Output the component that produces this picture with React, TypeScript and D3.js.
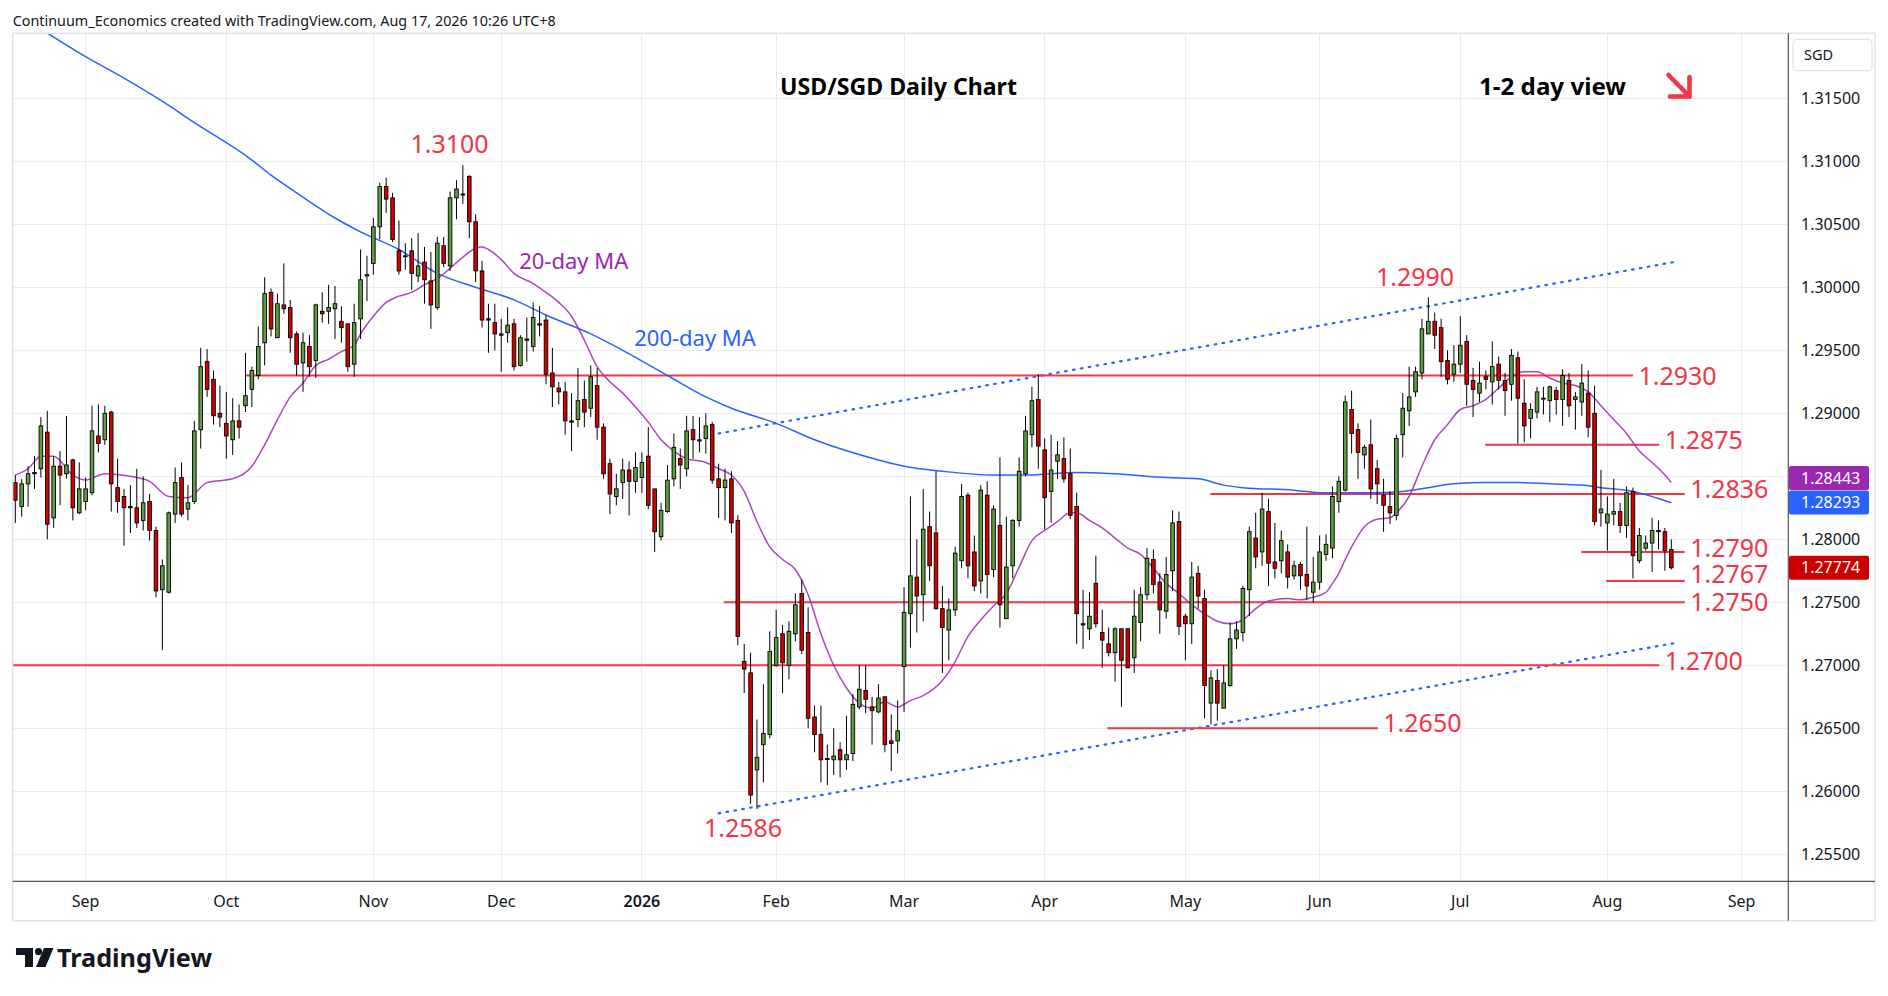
import React from 'react';
import * as d3 from 'd3';

// daily OHLC, one value per bar, first bar Fri 15 Aug 2025, last bar Mon 17 Aug 2026
const opens = [
  1.2845, 1.2826, 1.2844, 1.2853, 1.2856, 1.2885, 1.2817, 1.2858, 1.2852, 1.2863,
  1.2821, 1.2830, 1.2837, 1.2882, 1.2879, 1.2901, 1.2841, 1.2834, 1.2826, 1.2825,
  1.2815, 1.2830, 1.2807, 1.2760, 1.2758, 1.2820, 1.2849, 1.2824, 1.2830, 1.2887,
  1.2941, 1.2927, 1.2900, 1.2892, 1.2879, 1.2894, 1.2906, 1.2919, 1.2930, 1.2956,
  1.2996, 1.2960, 1.2986, 1.2984, 1.2963, 1.2940, 1.2953, 1.2942, 1.2981, 1.2981,
  1.2983, 1.2973, 1.2971, 1.2939, 1.2975, 1.3009, 1.3019, 1.3048, 1.3080, 1.3071,
  1.3029, 1.3025, 1.3029, 1.3009, 1.3020, 1.3005, 1.2984, 1.3033, 1.3017, 1.3071,
  1.3074, 1.3088, 1.3052, 1.3013, 1.2975, 1.2972, 1.2963, 1.2964, 1.2971, 1.2938,
  1.2959, 1.2953, 1.2971, 1.2974, 1.2932, 1.2920, 1.2917, 1.2894, 1.2895, 1.2911,
  1.2904, 1.2922, 1.2889, 1.2860, 1.2834, 1.2845, 1.2855, 1.2846, 1.2849, 1.2866,
  1.2840, 1.2802, 1.2822, 1.2848, 1.2864, 1.2856, 1.2887, 1.2878, 1.2880, 1.2891,
  1.2848, 1.2841, 1.2848, 1.2815, 1.2703, 1.2694, 1.2617, 1.2637, 1.2645, 1.2700,
  1.2725, 1.2700, 1.2725, 1.2757, 1.2726, 1.2659, 1.2645, 1.2626, 1.2625, 1.2633,
  1.2625, 1.2630, 1.2667, 1.2680, 1.2667, 1.2663, 1.2675, 1.2640, 1.2640, 1.2699,
  1.2741, 1.2770, 1.2756, 1.2810, 1.2805, 1.2745, 1.2728, 1.2744, 1.2783, 1.2835,
  1.2790, 1.2767, 1.2835, 1.2776, 1.2811, 1.2737, 1.2779, 1.2815, 1.2852, 1.2883,
  1.2911, 1.2871, 1.2838, 1.2862, 1.2864, 1.2852, 1.2826, 1.2733, 1.2729, 1.2765,
  1.2726, 1.2717, 1.2710, 1.2729, 1.2729, 1.2706, 1.2734, 1.2756, 1.2784, 1.2766,
  1.2743, 1.2775, 1.2814, 1.2739, 1.2733, 1.2773, 1.2753, 1.2670, 1.2688, 1.2666,
  1.2684, 1.2721, 1.2726, 1.2760, 1.2801, 1.2790, 1.2822, 1.2782, 1.2783, 1.2790,
  1.2771, 1.2780, 1.2772, 1.2758, 1.2766, 1.2788, 1.2793, 1.2830, 1.2839, 1.2903,
  1.2887, 1.2867, 1.2875, 1.2856, 1.2835, 1.2826, 1.2819, 1.2883, 1.2902, 1.2917,
  1.2932, 1.2963, 1.2973, 1.2968, 1.2942, 1.2931, 1.2939, 1.2957, 1.2926, 1.2916,
  1.2929, 1.2925, 1.2939, 1.2926, 1.2923, 1.2944, 1.2908, 1.2896, 1.2901, 1.2912,
  1.2910, 1.2918, 1.2911, 1.2926, 1.2911, 1.2909, 1.2916, 1.2900, 1.2821, 1.2813,
  1.2820, 1.2822, 1.2811, 1.2838, 1.2783, 1.2793, 1.2797, 1.2807, 1.2806, 1.2792,
];

const highs = [
  1.2851, 1.2848, 1.2858, 1.2866, 1.2897, 1.2902, 1.2866, 1.2870, 1.2898, 1.2864,
  1.2861, 1.2849, 1.2906, 1.2907, 1.2906, 1.2902, 1.2864, 1.2840, 1.2843, 1.2856,
  1.2850, 1.2836, 1.2810, 1.2784, 1.2822, 1.2857, 1.2861, 1.2843, 1.2894, 1.2952,
  1.2951, 1.2934, 1.2922, 1.2917, 1.2912, 1.2907, 1.2948, 1.2937, 1.2969, 1.3008,
  1.2999, 1.2995, 1.3019, 1.2990, 1.2965, 1.2964, 1.2962, 1.2987, 1.2996, 1.3002,
  1.3001, 1.2985, 1.2971, 1.2987, 1.3030, 1.3025, 1.3055, 1.3083, 1.3087, 1.3075,
  1.3053, 1.3035, 1.3039, 1.3043, 1.3032, 1.3028, 1.3040, 1.3040, 1.3076, 1.3085,
  1.3097, 1.3089, 1.3058, 1.3021, 1.2987, 1.2987, 1.2975, 1.2984, 1.2975, 1.2962,
  1.2976, 1.2988, 1.2985, 1.2978, 1.2952, 1.2925, 1.2925, 1.2916, 1.2936, 1.2926,
  1.2938, 1.2936, 1.2892, 1.2864, 1.2852, 1.2864, 1.2862, 1.2869, 1.2869, 1.2889,
  1.2840, 1.2829, 1.2859, 1.2884, 1.2872, 1.2898, 1.2898, 1.2897, 1.2900, 1.2893,
  1.2860, 1.2856, 1.2854, 1.2819, 1.2717, 1.2710, 1.2657, 1.2685, 1.2727, 1.2744,
  1.2732, 1.2735, 1.2757, 1.2768, 1.2746, 1.2668, 1.2668, 1.2637, 1.2650, 1.2639,
  1.2660, 1.2677, 1.2700, 1.2700, 1.2675, 1.2685, 1.2675, 1.2661, 1.2672, 1.2762,
  1.2834, 1.2800, 1.2840, 1.2822, 1.2854, 1.2763, 1.2753, 1.2794, 1.2844, 1.2837,
  1.2803, 1.2843, 1.2846, 1.2827, 1.2865, 1.2818, 1.2816, 1.2865, 1.2898, 1.2921,
  1.2931, 1.2880, 1.2883, 1.2878, 1.2881, 1.2872, 1.2837, 1.2760, 1.2758, 1.2787,
  1.2744, 1.2730, 1.2730, 1.2729, 1.2729, 1.2760, 1.2762, 1.2793, 1.2792, 1.2773,
  1.2786, 1.2823, 1.2822, 1.2741, 1.2782, 1.2779, 1.2760, 1.2696, 1.2697, 1.2700,
  1.2734, 1.2735, 1.2763, 1.2810, 1.2821, 1.2837, 1.2832, 1.2813, 1.2807, 1.2796,
  1.2783, 1.2782, 1.2810, 1.2786, 1.2803, 1.2804, 1.2842, 1.2850, 1.2914, 1.2918,
  1.2892, 1.2875, 1.2895, 1.2863, 1.2848, 1.2838, 1.2883, 1.2916, 1.2937, 1.2937,
  1.2975, 1.2992, 1.2980, 1.2975, 1.2950, 1.2954, 1.2977, 1.2962, 1.2936, 1.2941,
  1.2934, 1.2957, 1.2945, 1.2932, 1.2951, 1.2949, 1.2927, 1.2908, 1.2921, 1.2921,
  1.2922, 1.2921, 1.2935, 1.2932, 1.2917, 1.2939, 1.2934, 1.2922, 1.2855, 1.2834,
  1.2848, 1.2829, 1.2842, 1.2841, 1.2809, 1.2803, 1.2817, 1.2815, 1.2809, 1.2800,
];

const lows = [
  1.2813, 1.2818, 1.2826, 1.2840, 1.2849, 1.2800, 1.2809, 1.2827, 1.2848, 1.2815,
  1.2820, 1.2823, 1.2835, 1.2869, 1.2875, 1.2822, 1.2821, 1.2795, 1.2805, 1.2809,
  1.2807, 1.2799, 1.2754, 1.2712, 1.2757, 1.2813, 1.2818, 1.2815, 1.2828, 1.2872,
  1.2913, 1.2891, 1.2889, 1.2864, 1.2867, 1.2880, 1.2901, 1.2905, 1.2927, 1.2938,
  1.2961, 1.2960, 1.2979, 1.2948, 1.2930, 1.2917, 1.2929, 1.2928, 1.2972, 1.2971,
  1.2959, 1.2956, 1.2933, 1.2929, 1.2959, 1.2989, 1.3010, 1.3038, 1.3059, 1.3036,
  1.3010, 1.3014, 1.2998, 1.3004, 1.2987, 1.2967, 1.2982, 1.3016, 1.3013, 1.3054,
  1.3066, 1.3039, 1.3004, 1.2968, 1.2948, 1.2950, 1.2933, 1.2956, 1.2934, 1.2937,
  1.2941, 1.2949, 1.2961, 1.2923, 1.2905, 1.2907, 1.2883, 1.2870, 1.2889, 1.2889,
  1.2897, 1.2879, 1.2848, 1.2820, 1.2827, 1.2832, 1.2819, 1.2837, 1.2837, 1.2824,
  1.2790, 1.2799, 1.2821, 1.2842, 1.2840, 1.2850, 1.2864, 1.2869, 1.2868, 1.2844,
  1.2817, 1.2815, 1.2805, 1.2716, 1.2678, 1.2590, 1.2586, 1.2607, 1.2642, 1.2699,
  1.2678, 1.2689, 1.2719, 1.2709, 1.2650, 1.2631, 1.2607, 1.2605, 1.2613, 1.2611,
  1.2617, 1.2624, 1.2665, 1.2662, 1.2637, 1.2662, 1.2631, 1.2616, 1.2630, 1.2663,
  1.2714, 1.2726, 1.2735, 1.2767, 1.2744, 1.2694, 1.2704, 1.2739, 1.2777, 1.2769,
  1.2759, 1.2757, 1.2753, 1.2770, 1.2730, 1.2737, 1.2769, 1.2810, 1.2850, 1.2873,
  1.2856, 1.2808, 1.2813, 1.2848, 1.2845, 1.2816, 1.2717, 1.2713, 1.2720, 1.2730,
  1.2698, 1.2707, 1.2687, 1.2667, 1.2698, 1.2694, 1.2719, 1.2752, 1.2757, 1.2725,
  1.2737, 1.2759, 1.2724, 1.2704, 1.2717, 1.2745, 1.2658, 1.2653, 1.2656, 1.2666,
  1.2683, 1.2713, 1.2719, 1.2739, 1.2777, 1.2779, 1.2763, 1.2769, 1.2773, 1.2761,
  1.2768, 1.2760, 1.2752, 1.2750, 1.2760, 1.2783, 1.2785, 1.2821, 1.2838, 1.2868,
  1.2848, 1.2856, 1.2832, 1.2828, 1.2806, 1.2812, 1.2815, 1.2865, 1.2890, 1.2913,
  1.2927, 1.2963, 1.2951, 1.2929, 1.2923, 1.2925, 1.2932, 1.2906, 1.2897, 1.2909,
  1.2919, 1.2907, 1.2919, 1.2898, 1.2910, 1.2876, 1.2877, 1.2880, 1.2896, 1.2899,
  1.2893, 1.2899, 1.2890, 1.2897, 1.2887, 1.2898, 1.2881, 1.2811, 1.2810, 1.2791,
  1.2811, 1.2805, 1.2801, 1.2769, 1.2781, 1.2791, 1.2774, 1.2792, 1.2775, 1.2776,
];

const closes = [
  1.2831, 1.2844, 1.2852, 1.2852, 1.2890, 1.2812, 1.2858, 1.2851, 1.2859, 1.2825,
  1.2840, 1.2840, 1.2886, 1.2876, 1.2900, 1.2844, 1.2830, 1.2825, 1.2825, 1.2813,
  1.2829, 1.2807, 1.2759, 1.2779, 1.2821, 1.2845, 1.2820, 1.2829, 1.2886, 1.2937,
  1.2919, 1.2898, 1.2897, 1.2882, 1.2894, 1.2889, 1.2914, 1.2934, 1.2953, 1.2995,
  1.2967, 1.2987, 1.2983, 1.2960, 1.2939, 1.2956, 1.2937, 1.2986, 1.2979, 1.2984,
  1.2987, 1.2968, 1.2937, 1.2972, 1.3006, 1.3010, 1.3048, 1.3080, 1.3070, 1.3038,
  1.3013, 1.3025, 1.3011, 1.3017, 1.3006, 1.2986, 1.3035, 1.3019, 1.3071, 1.3078,
  1.3074, 1.3052, 1.3013, 1.2974, 1.2974, 1.2963, 1.2962, 1.2970, 1.2937, 1.2960,
  1.2958, 1.2976, 1.2970, 1.2931, 1.2921, 1.2917, 1.2894, 1.2893, 1.2910, 1.2901,
  1.2929, 1.2889, 1.2852, 1.2836, 1.2840, 1.2855, 1.2846, 1.2857, 1.2861, 1.2827,
  1.2806, 1.2823, 1.2847, 1.2873, 1.2859, 1.2886, 1.2879, 1.2879, 1.2890, 1.2847,
  1.2841, 1.2847, 1.2813, 1.2723, 1.2697, 1.2597, 1.2627, 1.2646, 1.2711, 1.2722,
  1.2702, 1.2727, 1.2748, 1.2712, 1.2658, 1.2645, 1.2625, 1.2626, 1.2628, 1.2625,
  1.2629, 1.2669, 1.2681, 1.2673, 1.2664, 1.2674, 1.2637, 1.2638, 1.2648, 1.2742,
  1.2771, 1.2755, 1.2808, 1.2779, 1.2745, 1.2730, 1.2744, 1.2789, 1.2834, 1.2779,
  1.2763, 1.2839, 1.2772, 1.2824, 1.2748, 1.2778, 1.2815, 1.2854, 1.2886, 1.2910,
  1.2874, 1.2833, 1.2855, 1.2867, 1.2848, 1.2819, 1.2741, 1.2732, 1.2739, 1.2733,
  1.2720, 1.2710, 1.2729, 1.2704, 1.2698, 1.2739, 1.2756, 1.2785, 1.2764, 1.2744,
  1.2772, 1.2813, 1.2731, 1.2733, 1.2770, 1.2755, 1.2684, 1.2690, 1.2670, 1.2686,
  1.2721, 1.2728, 1.2761, 1.2806, 1.2786, 1.2824, 1.2781, 1.2777, 1.2799, 1.2770,
  1.2779, 1.2771, 1.2763, 1.2766, 1.2790, 1.2796, 1.2834, 1.2846, 1.2909, 1.2884,
  1.2869, 1.2873, 1.2840, 1.2844, 1.2827, 1.2821, 1.2880, 1.2904, 1.2913, 1.2933,
  1.2967, 1.2973, 1.2962, 1.2941, 1.2927, 1.2939, 1.2954, 1.2923, 1.2919, 1.2924,
  1.2927, 1.2937, 1.2926, 1.2918, 1.2946, 1.2912, 1.2890, 1.2903, 1.2917, 1.2912,
  1.2921, 1.2911, 1.2930, 1.2906, 1.2913, 1.2924, 1.2889, 1.2814, 1.2824, 1.2820,
  1.2822, 1.2811, 1.2837, 1.2787, 1.2803, 1.2797, 1.2807, 1.2806, 1.2791, 1.27774,
];

// moving averages at bar indices
const ma20Bars = [
  0, 2, 4, 6, 9, 11, 14, 18, 21, 24, 27, 30, 34, 37, 39, 41, 43, 45, 47, 49,
  51, 53, 54, 56, 58, 60, 62, 64, 66, 68, 70, 72, 73, 74, 76, 78, 81, 83, 85, 87,
  89, 91, 93, 95, 97, 99, 101, 103, 105, 108, 110, 112, 114, 116, 118, 120, 122, 124, 126, 128,
  130, 132, 134, 136, 138, 140, 142, 145, 147, 149, 151, 153, 155, 157, 159, 161, 163, 165, 166, 168,
  170, 172, 174, 176, 178, 180, 182, 184, 186, 188, 190, 192, 194, 196, 199, 201, 203, 205, 206, 207,
  208, 209, 211, 213, 215, 216, 218, 220, 222, 224, 226, 228, 230, 232, 234, 236, 238, 240, 242, 244,
  246, 248, 250, 252, 254, 256, 258, 259,
];
const ma20Values = [
  1.2851, 1.2856, 1.2866, 1.2866, 1.2851, 1.2847, 1.2852, 1.2850, 1.2846, 1.2834, 1.2833, 1.2845, 1.2848, 1.2858, 1.2875, 1.2895, 1.2913, 1.2924, 1.2938, 1.2943,
  1.2949, 1.2954, 1.2963, 1.2977, 1.2988, 1.2993, 1.2996, 1.3002, 1.3007, 1.3015, 1.3024, 1.3031, 1.3032, 1.3030, 1.3022, 1.3011, 1.3003, 1.2996, 1.2988, 1.2977,
  1.2958, 1.2937, 1.2925, 1.2916, 1.2905, 1.2893, 1.2879, 1.2870, 1.2864, 1.2861, 1.2856, 1.2851, 1.2838, 1.2814, 1.2794, 1.2784, 1.2776, 1.2756, 1.2725, 1.2700,
  1.2682, 1.2670, 1.2666, 1.2671, 1.2667, 1.2672, 1.2676, 1.2688, 1.2703, 1.2723, 1.2736, 1.2747, 1.2757, 1.2778, 1.2799, 1.2807, 1.2814, 1.2821, 1.2821, 1.2815,
  1.2809, 1.2801, 1.2793, 1.2788, 1.2777, 1.2765, 1.2757, 1.2748, 1.2741, 1.2735, 1.2733, 1.2736, 1.2745, 1.2751, 1.2753, 1.2752, 1.2754, 1.2758, 1.2765, 1.2773,
  1.2784, 1.2794, 1.2810, 1.2816, 1.2817, 1.2821, 1.2834, 1.2858, 1.2879, 1.2891, 1.2903, 1.2906, 1.2911, 1.2920, 1.2929, 1.2933, 1.2933, 1.2928, 1.2924, 1.2922,
  1.2917, 1.2906, 1.2895, 1.2884, 1.2870, 1.2861, 1.2851, 1.2845,
];

const ma200Bars = [
  4, 11, 17, 25, 27, 37, 40, 44, 50, 54, 60, 66, 72, 78, 83, 90, 95, 102, 108, 112,
  119, 125, 135, 139, 145, 153, 158, 166, 172, 180, 185, 189, 192, 200, 204, 212, 217, 221, 225, 230,
  235, 240, 245, 248, 253, 259,
];
const ma200Values = [
  1.3205, 1.3183, 1.3166, 1.3141, 1.3134, 1.3101, 1.3089, 1.3075, 1.3055, 1.3044, 1.3030, 1.3011, 1.3000, 1.2990, 1.2978, 1.2963, 1.2950, 1.2930, 1.2913, 1.2904,
  1.2892, 1.2879, 1.2863, 1.2858, 1.2854, 1.2851, 1.2851, 1.2853, 1.2852, 1.2849, 1.2848, 1.2843, 1.2841, 1.2839, 1.2837, 1.2837, 1.2838, 1.2841, 1.2844, 1.2845,
  1.2845, 1.2844, 1.2843, 1.2841, 1.2838, 1.2829,
];

const priceTicks = [1.255, 1.26, 1.265, 1.27, 1.275, 1.28, 1.285, 1.29, 1.295, 1.3, 1.305, 1.31, 1.315];
const monthNames = ['2026', 'Feb', 'Mar', 'Apr', 'May', 'Jun', 'Jul', 'Aug', 'Sep', 'Oct', 'Nov', 'Dec'];
const holidays = ['2025-12-25', '2026-01-01'];

// drawn support / resistance levels: price, first bar, last bar
const levelPrices = [1.2930, 1.2875, 1.2836, 1.2790, 1.2767, 1.2750, 1.2700, 1.2650];
const levelFrom = [35.9, 229.9, 186.9, 244.9, 248.8, 110.8, -0.5, 170.8];
const levelTo = [253.0, 257.1, 261.1, 261.1, 261.1, 261.1, 257.1, 213.1];
const levelLabelDy = [9, 4.5, 4.5, 5.5, 2, 8.5, 5, 3.5];

// dotted channel lines: [bar, price] at each end
const channelUpper: [number, number][] = [[110, 1.2884], [259.4, 1.3020]];
const channelLower: [number, number][] = [[110, 1.25825], [259.4, 1.27175]];

// text notes on the chart: bar, price at the text baseline
const notes = [
  { text: '1.3100', bar: 61.8, price: 1.31066 },
  { text: '1.2990', bar: 212.8, price: 1.30014 },
  { text: '1.2586', bar: 107.7, price: 1.25637 },
];

const lastMa20 = 1.28443;
const lastMa200 = 1.28293;
const lastClose = 1.27774;

const FONT = '"Noto Sans", "DejaVu Sans", sans-serif';
const RED = '#f23645';
const UP = '#5d9c3f';
const DOWN = '#d30000';
const PURPLE = '#9c27b0';
const BLUE = '#2962ff';
const GRID = '#e6ecf2';
const INK = '#131722';

const buildDates = (count: number) => {
  const out: Date[] = [];
  const d = new Date(Date.UTC(2025, 7, 15));
  while (out.length < count) {
    const wd = d.getUTCDay();
    const key = d.toISOString().slice(0, 10);
    if (wd !== 0 && wd !== 6 && !holidays.includes(key)) out.push(new Date(d));
    d.setUTCDate(d.getUTCDate() + 1);
  }
  return out;
};

const App: React.FC = () => {
  const W = 1888;
  const H = 996;
  const plot = { left: 12.7, right: 1788.3, top: 33.3, bottom: 881.3 };
  const frameRight = 1875;
  const frameBottom = 920.7;

  const x = d3.scaleLinear().domain([0, 259]).range([15.3, 1671.3]);
  const y = d3.scaleLinear().domain([1.255, 1.315]).range([854.3, 98.3]);

  const dates = buildDates(275);
  const monthTicks: { i: number; label: string }[] = [];
  for (let i = 1; i < dates.length; i++) {
    if (dates[i].getUTCMonth() !== dates[i - 1].getUTCMonth()) {
      monthTicks.push({ i, label: monthNames[dates[i].getUTCMonth()] });
    }
  }

  const maLine = d3
    .line<[number, number]>()
    .x((d) => x(d[0]))
    .y((d) => y(d[1]))
    .curve(d3.curveMonotoneX);
  const ma20Path = maLine(ma20Bars.map((b, k) => [b, ma20Values[k]]));
  const ma200Path = maLine(ma200Bars.map((b, k) => [b, ma200Values[k]]));
  const straight = d3
    .line<[number, number]>()
    .x((d) => x(d[0]))
    .y((d) => y(d[1]));

  const bodyW = 3.6;

  // price axis badges; the 20-day badge is pushed above the 200-day one
  const yBlue = y(lastMa200);
  const yPurple = Math.min(y(lastMa20), yBlue - 24.5);
  const yRed = y(lastClose);
  const badges = [
    { y: yPurple, text: lastMa20.toFixed(5), fill: PURPLE },
    { y: yBlue, text: lastMa200.toFixed(5), fill: BLUE },
    { y: yRed, text: lastClose.toFixed(5), fill: '#cc0000' },
  ];

  return (
    <div style={{ position: 'absolute', left: 0, top: 0, width: W, height: H, background: '#fff' }}>
      <svg width={W} height={H} style={{ display: 'block', fontFamily: FONT }}>
        <defs>
          <clipPath id="plotClip">
            <rect x={plot.left} y={plot.top} width={plot.right - plot.left} height={plot.bottom - plot.top} />
          </clipPath>
        </defs>

        <text x={12.7} y={25.7} fontSize={14.5} fill={INK} textLength={543} lengthAdjust="spacingAndGlyphs">
          Continuum_Economics created with TradingView.com, Aug 17, 2026 10:26 UTC+8
        </text>

        {/* grid */}
        <g shapeRendering="crispEdges" stroke={GRID} strokeWidth={1}>
          {priceTicks.map((p) => (
            <line key={p} x1={plot.left} x2={plot.right} y1={y(p)} y2={y(p)} />
          ))}
          {monthTicks.map((t) => (
            <line key={t.i} x1={x(t.i)} x2={x(t.i)} y1={plot.top} y2={plot.bottom} />
          ))}
        </g>

        <g clipPath="url(#plotClip)">
          {/* dotted channel */}
          {[channelUpper, channelLower].map((c, k) => (
            <path
              key={k}
              d={straight(c) || ''}
              fill="none"
              stroke={BLUE}
              strokeWidth={2.2}
              strokeDasharray="1.6 6.4"
              strokeLinecap="round"
            />
          ))}

          {/* horizontal levels */}
          {levelPrices.map((p, k) => (
            <line
              key={p}
              x1={Math.max(plot.left, x(levelFrom[k]))}
              x2={x(levelTo[k])}
              y1={y(p)}
              y2={y(p)}
              stroke={RED}
              strokeWidth={2}
            />
          ))}

          <path d={ma200Path || ''} fill="none" stroke={BLUE} strokeWidth={1.5} />
          <path d={ma20Path || ''} fill="none" stroke={PURPLE} strokeWidth={1.5} opacity={0.85} />

          {/* candles */}
          {closes.map((c, i) => {
            const o = opens[i];
            const cx = x(i);
            const top = y(Math.max(o, c));
            const h = Math.max(1, Math.abs(y(o) - y(c)));
            return (
              <g key={i}>
                <line x1={cx} x2={cx} y1={y(highs[i])} y2={y(lows[i])} stroke="#000" strokeWidth={1} />
                <rect
                  x={cx - bodyW / 2}
                  y={top}
                  width={bodyW}
                  height={h}
                  fill={c >= o ? UP : DOWN}
                  stroke="#000"
                  strokeWidth={0.9}
                />
              </g>
            );
          })}
        </g>

        {/* level labels */}
        {levelPrices.map((p, k) => (
          <text key={p} x={x(levelTo[k]) + 5.5} y={y(p) + levelLabelDy[k]} fontSize={25} fill={RED}>
            {p.toFixed(4)}
          </text>
        ))}
        {notes.map((n) => (
          <text key={n.text} x={x(n.bar)} y={y(n.price)} fontSize={25} fill={RED}>
            {n.text}
          </text>
        ))}
        <text x={x(78.8)} y={y(1.30145)} fontSize={22} fill={PURPLE}>
          20-day MA
        </text>
        <text x={x(96.8)} y={y(1.29534)} fontSize={22} fill={BLUE}>
          200-day MA
        </text>

        {/* titles */}
        <text x={780} y={95} fontSize={24} fontWeight={700} fill="#000" textLength={237} lengthAdjust="spacingAndGlyphs">
          USD/SGD Daily Chart
        </text>
        <text x={1479} y={95} fontSize={24} fontWeight={700} fill="#000" textLength={147} lengthAdjust="spacingAndGlyphs">
          1-2 day view
        </text>
        <g stroke={RED} strokeWidth={4.6} strokeLinecap="round" strokeLinejoin="round" fill="none">
          <line x1={1668.5} y1={75} x2={1689.5} y2={96.5} />
          <polyline points="1670,96.5 1689.5,96.5 1689.5,77" />
        </g>

        {/* frame and axes */}
        <rect
          x={plot.left}
          y={plot.top}
          width={frameRight - plot.left}
          height={frameBottom - plot.top}
          fill="none"
          stroke="#e0e3eb"
          strokeWidth={1.5}
        />
        <line x1={plot.right} x2={plot.right} y1={plot.top} y2={frameBottom} stroke="#50535e" strokeWidth={1.2} />
        <line x1={plot.left} x2={frameRight} y1={plot.bottom} y2={plot.bottom} stroke="#50535e" strokeWidth={1.2} />

        <rect x={1793} y={39.3} width={79} height={31.4} rx={4} fill="#fff" stroke="#e0e3eb" strokeWidth={1.2} />
        <text x={1804} y={60} fontSize={14.5} fill={INK}>
          SGD
        </text>

        {priceTicks.map((p) => (
          <text key={p} x={1801} y={y(p) + 5.7} fontSize={16} fill={INK}>
            {p.toFixed(5)}
          </text>
        ))}
        {badges.map((b) => (
          <g key={b.text}>
            <rect x={1789} y={b.y - 12} width={80} height={24} rx={2} fill={b.fill} />
            <text x={1801} y={b.y + 5.7} fontSize={16} fill="#fff">
              {b.text}
            </text>
          </g>
        ))}

        {monthTicks.map((t) => (
          <text
            key={t.i}
            x={x(t.i)}
            y={906.7}
            fontSize={16}
            fill={INK}
            textAnchor="middle"
            fontWeight={t.label === '2026' ? 600 : 400}
          >
            {t.label}
          </text>
        ))}

        {/* TradingView mark */}
        <g fill="#131722">
          <path d="M16,948 H33 V967 H25 V955 H16 Z" />
          <circle cx={38.5} cy={951.6} r={3.6} />
          <path d="M44,948 H53.5 L45.5,967 H36 Z" />
        </g>
        <text x={57} y={967} fontSize={25} fontWeight={700} fill="#131722" textLength={155} lengthAdjust="spacingAndGlyphs">
          TradingView
        </text>
      </svg>
    </div>
  );
};

export default App;
